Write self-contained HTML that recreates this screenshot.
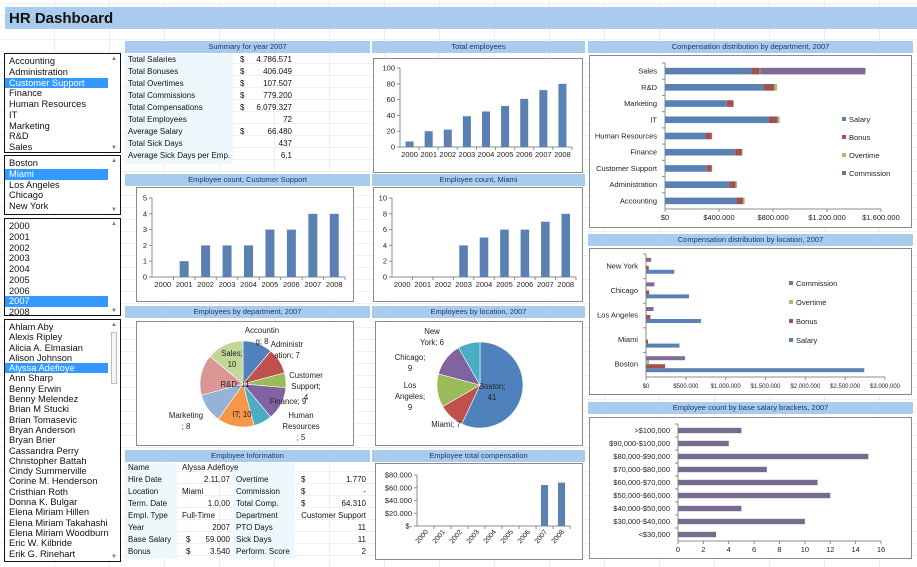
<!DOCTYPE html>
<html><head><meta charset="utf-8">
<style>
*{box-sizing:border-box;margin:0;padding:0}
body{width:917px;height:567px;overflow:hidden;position:relative;font-family:"Liberation Sans",sans-serif;color:#111;
background-color:#fff;
background-image:repeating-linear-gradient(90deg,transparent 0 54px,#ececec 54px 55px),repeating-linear-gradient(0deg,transparent 0 11px,#f0f0f0 11px 12px);}
.abs{position:absolute}
.title{left:5px;top:7px;width:912px;height:22px;background:#a9cbee;font-weight:bold;font-size:15px;padding:3px 0 0 4px;color:#111}
.hdr{position:absolute;height:12px;background:#a9cbee;font-size:7.5px;color:#1f3864;text-align:center;line-height:12px}
.box{position:absolute;border:1px solid #8a8a8a;background:#fff}
.lb{position:absolute;border:1px solid #111;background:#fff;font-size:9.3px;overflow:hidden;padding-top:1px}
.lb div{height:10.75px;line-height:10.75px;padding-left:4px;white-space:nowrap;width:103px}
.lb.names div{height:10.3px;line-height:10.3px}
.lb .sel{background:#3399ff;color:#fff}
.lb .up,.lb .dn{position:absolute;right:3px;font-size:6px;color:#777}
.lb .up{top:2px}.lb .dn{bottom:1px}
.tbl{position:absolute;font-size:8px;left:0;top:0}
.tbl div{position:absolute;white-space:nowrap}
.tbl .r{text-align:right}
svg text{font-family:"Liberation Sans",sans-serif}
</style></head><body>
<div class="abs title">HR Dashboard</div>

<div class="lb" style="left:4px;top:53px;width:117px;height:100px;padding-top:2px">
<div>Accounting</div><div>Administration</div><div class="sel">Customer Support</div><div>Finance</div><div>Human Resources</div><div>IT</div><div>Marketing</div><div>R&amp;D</div><div>Sales</div>
<span class="up">▲</span><span class="dn">▼</span></div>
<div class="lb" style="left:4px;top:155px;width:117px;height:60px;padding-top:2px">
<div>Boston</div><div class="sel">Miami</div><div>Los Angeles</div><div>Chicago</div><div>New York</div>
<span class="up">▲</span><span class="dn">▼</span></div>
<div class="lb" style="left:4px;top:218px;width:117px;height:98px;padding-top:2px">
<div>2000</div><div>2001</div><div>2002</div><div>2003</div><div>2004</div><div>2005</div><div>2006</div><div class="sel">2007</div><div>2008</div>
<span class="up">▲</span><span class="dn">▼</span></div>
<div class="lb names" style="left:4px;top:319px;width:117px;height:243px;padding-top:2px">
<div>Ahlam Aby</div><div>Alexis Ripley</div><div>Alicia A. Elmasian</div><div>Alison Johnson</div><div class="sel">Alyssa Adefioye</div><div>Ann Sharp</div><div>Benny Erwin</div><div>Benny Melendez</div><div>Brian M Stucki</div><div>Brian Tomasevic</div><div>Bryan Anderson</div><div>Bryan Brier</div><div>Cassandra Perry</div><div>Christopher Battah</div><div>Cindy Summerville</div><div>Corine M. Henderson</div><div>Cristhian Roth</div><div>Donna K. Bulgar</div><div>Elena Miriam Hillen</div><div>Elena Miriam Takahashi</div><div>Elena Miriam Woodburn</div><div>Eric W. Kilbride</div><div>Erik G. Rinehart</div>
<span class="up">▲</span><span class="dn" style="background:#fff">▼</span><span class="abs" style="right:3px;top:12px;width:6px;height:52px;border:1px solid #bbb;background:#f4f4f4"></span></div>

<div class="hdr" style="left:125px;top:41px;width:245px">Summary for year 2007</div>
<div class="hdr" style="left:372px;top:41px;width:213px">Total employees</div>
<div class="hdr" style="left:588px;top:41px;width:325px">Compensation distribution by department, 2007</div>
<div class="hdr" style="left:125px;top:174px;width:245px">Employee count, Customer Support</div>
<div class="hdr" style="left:372px;top:174px;width:213px">Employee count, Miami</div>
<div class="hdr" style="left:588px;top:234px;width:325px">Compensation distribution by location, 2007</div>
<div class="hdr" style="left:125px;top:306px;width:245px">Employees by department, 2007</div>
<div class="hdr" style="left:372px;top:306px;width:213px">Employees by location, 2007</div>
<div class="hdr" style="left:588px;top:402px;width:325px">Employee count by base salary brackets, 2007</div>
<div class="hdr" style="left:125px;top:450px;width:245px">Employee Information</div>
<div class="hdr" style="left:372px;top:450px;width:213px">Employee total compensation</div>

<div class="box" style="left:373px;top:58px;width:210px;height:115px"></div>
<div class="box" style="left:589px;top:55px;width:323px;height:173px"></div>
<div class="box" style="left:136px;top:187px;width:218px;height:115px"></div>
<div class="box" style="left:373px;top:187px;width:210px;height:115px"></div>
<div class="box" style="left:589px;top:248px;width:323px;height:147px"></div>
<div class="box" style="left:136px;top:321px;width:218px;height:125px"></div>
<div class="box" style="left:375px;top:321px;width:208px;height:125px"></div>
<div class="box" style="left:589px;top:417px;width:323px;height:142px"></div>
<div class="box" style="left:375px;top:463px;width:208px;height:97px"></div>

<div class="abs" style="left:125px;top:54px;width:108px;height:110px;background:#eef8fc"></div>
<div class="tbl">
<div style="left:128px;top:55px">Total Salaries</div><div style="left:240px;top:55px">$</div><div class="r" style="left:232px;width:60px;top:55px">4.786.571</div>
<div style="left:128px;top:67px">Total Bonuses</div><div style="left:240px;top:67px">$</div><div class="r" style="left:232px;width:60px;top:67px">406.049</div>
<div style="left:128px;top:79px">Total Overtimes</div><div style="left:240px;top:79px">$</div><div class="r" style="left:232px;width:60px;top:79px">107.507</div>
<div style="left:128px;top:91px">Total Commissions</div><div style="left:240px;top:91px">$</div><div class="r" style="left:232px;width:60px;top:91px">779.200</div>
<div style="left:128px;top:103px">Total Compensations</div><div style="left:240px;top:103px">$</div><div class="r" style="left:232px;width:60px;top:103px">6.079.327</div>
<div style="left:128px;top:115px">Total Employees</div><div class="r" style="left:232px;width:60px;top:115px">72</div>
<div style="left:128px;top:127px">Average Salary</div><div style="left:240px;top:127px">$</div><div class="r" style="left:232px;width:60px;top:127px">66.480</div>
<div style="left:128px;top:139px">Total Sick Days</div><div class="r" style="left:232px;width:60px;top:139px">437</div>
<div style="left:128px;top:151px">Average Sick Days per Emp.</div><div class="r" style="left:232px;width:60px;top:151px">6,1</div>
</div>

<div class="abs" style="left:125px;top:463px;width:52px;height:96px;background:#eef8fc"></div>
<div class="abs" style="left:233px;top:463px;width:62px;height:96px;background:#eef8fc"></div>
<div class="tbl">
<div style="left:128px;top:463px">Name</div><div style="left:182px;top:463px">Alyssa Adefioye</div>
<div style="left:128px;top:475px">Hire Date</div><div class="r" style="left:178px;width:52px;top:475px">2.11.07</div><div style="left:236px;top:475px">Overtime</div><div style="left:301px;top:475px">$</div><div class="r" style="left:300px;width:66px;top:475px">1.770</div>
<div style="left:128px;top:487px">Location</div><div style="left:182px;top:487px">Miami</div><div style="left:236px;top:487px">Commission</div><div style="left:301px;top:487px">$</div><div class="r" style="left:300px;width:66px;top:487px">-</div>
<div style="left:128px;top:499px">Term. Date</div><div class="r" style="left:178px;width:52px;top:499px">1.0.00</div><div style="left:236px;top:499px">Total Comp.</div><div style="left:301px;top:499px">$</div><div class="r" style="left:300px;width:66px;top:499px">64.310</div>
<div style="left:128px;top:511px">Empl. Type</div><div style="left:182px;top:511px">Full-Time</div><div style="left:236px;top:511px">Department</div><div class="r" style="left:290px;width:76px;top:511px">Customer Support</div>
<div style="left:128px;top:523px">Year</div><div class="r" style="left:178px;width:52px;top:523px">2007</div><div style="left:236px;top:523px">PTO Days</div><div class="r" style="left:300px;width:66px;top:523px">11</div>
<div style="left:128px;top:535px">Base Salary</div><div style="left:186px;top:535px">$</div><div class="r" style="left:178px;width:52px;top:535px">59.000</div><div style="left:236px;top:535px">Sick Days</div><div class="r" style="left:300px;width:66px;top:535px">11</div>
<div style="left:128px;top:547px">Bonus</div><div style="left:186px;top:547px">$</div><div class="r" style="left:178px;width:52px;top:547px">3.540</div><div style="left:236px;top:547px">Perform. Score</div><div class="r" style="left:300px;width:66px;top:547px">2</div>
</div>

<svg id="charts" class="abs" style="left:0;top:0" width="917" height="567"></svg>

<script>
const years=['2000','2001','2002','2003','2004','2005','2006','2007','2008'];
const totalEmployees=[7,20,22,39,45,52,61,72,80];
const totalEmpTicks=[0,20,40,60,80,100];
const csCounts=[0,1,2,2,2,3,3,4,4];
const csTicks=[0,1,2,3,4,5];
const miamiCounts=[0,0,0,4,5,6,6,7,8];
const miamiTicks=[0,2,4,6,8,10];
const empComp=[0,0,0,0,0,0,0,64310,68000];
const empCompTicks=[0,20000,40000,60000,80000];
const empCompTickLabels=['$-','$20.000','$40.000','$60.000','$80.000'];

const departments=['Accounting','Administration','Customer Support','Finance','Human Resources','IT','Marketing','R&D','Sales'];
const deptSalary=[530000,477000,310000,520000,300000,770000,457000,730000,640000];
const deptBonus=[50000,47000,37000,50000,47000,65000,50000,80000,60000];
const deptOvertime=[10000,10000,3000,4000,3000,15000,3000,20000,5000];
const deptCommission=[0,0,0,0,0,0,0,0,780000];
const deptTicks=[0,400000,800000,1200000,1600000];
const deptTickLabels=['$0','$400.000','$800.000','$1.200.000','$1.600.000'];

const locations=['Boston','Miami','Los Angeles','Chicago','New York'];
const locSalary=[2740000,420000,690000,540000,355000];
const locBonus=[240000,25000,55000,40000,35000];
const locOvertime=[40000,5000,10000,10000,5000];
const locCommission=[490000,5000,95000,105000,65000];
const locTicks=[0,500000,1000000,1500000,2000000,2500000,3000000];
const locTickLabels=['$0','$500.000','$1.000.000','$1.500.000','$2.000.000','$2.500.000','$3.000.000'];

const brackets=['<$30,000','$30,000-$40,000','$40,000-$50,000','$50,000-$60,000','$60,000-$70,000','$70,000-$80,000','$80,000-$90,000','$90,000-$100,000','>$100,000'];
const bracketCounts=[3,10,5,12,11,7,15,4,5];
const bracketTicks=[0,2,4,6,8,10,12,14,16];

const pieDeptNames=['Accounting','Administration','Customer Support','Finance','Human Resources','IT','Marketing','R&D','Sales'];
const pieDeptValues=[8,7,4,9,5,10,8,11,10];
const pieLocNames=['Boston','Miami','Los Angeles','Chicago','New York'];
const pieLocValues=[41,7,9,9,6];

const svg=document.getElementById('charts');
const NS='http://www.w3.org/2000/svg';
function mk(tag,attrs){const e=document.createElementNS(NS,tag);for(const k in attrs)e.setAttribute(k,attrs[k]);svg.appendChild(e);return e;}
function txt(x,y,s,anchor,size,fill){const t=mk('text',{x:x,y:y,'text-anchor':anchor||'start','font-size':size||7.5,fill:fill||'#222'});t.textContent=s;return t;}
const AX='#8c8c8c';
const C={sal:'#5b80b2',bon:'#a0524f',ot:'#a6bd78',com:'#7f6b98',bar:'#5b80b2',br:'#776c8c'};

function colChart(vals,ticks,tickLabels,L,R,B,T,name,rot){
  const max=ticks[ticks.length-1];
  const ys=v=>B-(v/max)*(B-T);
  const slot=(R-L)/vals.length;
  const ax1=mk('line',{x1:L,y1:T,x2:L,y2:B,stroke:AX});
  
  
  const ax2=mk('line',{x1:L,y1:B,x2:R,y2:B,stroke:AX});
  
  
  ticks.forEach((t,i)=>{
    mk('line',{x1:L-3,y1:ys(t),x2:L,y2:ys(t),stroke:AX});
    const tl=txt(L-5,ys(t)+2.5,tickLabels?tickLabels[i]:String(t),'end',7.5);
    
    
  });
  vals.forEach((v,i)=>{
    const cx=L+slot*(i+0.5), w=slot*0.42;
    mk('line',{x1:L+slot*(i+1),y1:B,x2:L+slot*(i+1),y2:B+3,stroke:AX});
    if(v>0){const r=mk('rect',{x:cx-w/2,y:ys(v),width:w,height:B-ys(v),fill:C.bar});
      
      }
    let l;
    if(rot){l=txt(cx+3,B+6,years[i],'end',7);l.setAttribute('transform','rotate(-50 '+(cx+3)+' '+(B+6)+')');}
    else l=txt(cx,B+10,years[i],'middle',7.5);
    
    
  });
}
colChart(totalEmployees,totalEmpTicks,null,400,572,147,68,'total-employees');
colChart(csCounts,csTicks,null,152,345,277,198,'count-cs');
colChart(miamiCounts,miamiTicks,null,392,576,277,198,'count-miami');
colChart(empComp,empCompTicks,empCompTickLabels,417,570,526,475,'employee-comp',true);

(function(){
  const L=665,R=881,T=63,B=209,max=deptTicks[deptTicks.length-1];
  const xs=v=>L+(v/max)*(R-L);const slot=(B-T)/departments.length;
  const a=mk('line',{x1:L,y1:T,x2:L,y2:B,stroke:AX});
  
  
  const b=mk('line',{x1:L,y1:B,x2:R,y2:B,stroke:AX});
  
  
  deptTicks.forEach((t,i)=>{mk('line',{x1:xs(t),y1:B,x2:xs(t),y2:B+3,stroke:AX});
    const l=txt(xs(t),B+11,deptTickLabels[i],'middle',7.5);
    
    });
  const series=[[deptSalary,C.sal,'salary'],[deptBonus,C.bon,'bonus'],[deptOvertime,C.ot,'overtime'],[deptCommission,C.com,'commission']];
  departments.forEach((d,i)=>{
    const cy=B-slot*(i+0.5);let acc=0;
    mk('line',{x1:L-3,y1:B-slot*(i+1),x2:L,y2:B-slot*(i+1),stroke:AX});
    series.forEach(s=>{const v=s[0][i];if(v>0){const r=mk('rect',{x:xs(acc),y:cy-3.3,width:xs(acc+v)-xs(acc),height:6.6,fill:s[1]});
      
      }acc+=v;});
    const l=txt(L-8,cy+2.5,d,'end',7.5);
    
    
  });
  [['Salary',C.sal],['Bonus',C.bon],['Overtime',C.ot],['Commission',C.com]].forEach((e,i)=>{
    const y=120+i*18;const r=mk('rect',{x:842,y:y-3,width:4,height:4,fill:e[1]});
    
    
    const l=txt(849,y+2,e[0],'start',7.5);
    
    });
})();

(function(){
  const L=646,R=885,T=254,B=377,max=locTicks[locTicks.length-1];
  const xs=v=>L+(v/max)*(R-L);const slot=(B-T)/locations.length;
  const a=mk('line',{x1:L,y1:T,x2:L,y2:B,stroke:AX});
  
  
  const b=mk('line',{x1:L,y1:B,x2:R,y2:B,stroke:AX});
  
  
  locTicks.forEach((t,i)=>{mk('line',{x1:xs(t),y1:B,x2:xs(t),y2:B+3,stroke:AX});
    const l=txt(xs(t),B+11,locTickLabels[i],'middle',6);
    
    });
  const series=[[locSalary,C.sal,'salary',5.5],[locBonus,C.bon,'bonus',1.5],[locOvertime,C.ot,'overtime',-2.5],[locCommission,C.com,'commission',-6.5]];
  locations.forEach((d,i)=>{
    const cy=B-slot*(i+0.5);
    mk('line',{x1:L-3,y1:B-slot*(i+1),x2:L,y2:B-slot*(i+1),stroke:AX});
    series.forEach(s=>{const r=mk('rect',{x:L,y:cy+s[3]-2,width:xs(s[0][i])-L,height:4,fill:s[1]});
      
      });
    const l=txt(L-8,cy+2,d,'end',7.5);
    
    
  });
  [['Commission',C.com],['Overtime',C.ot],['Bonus',C.bon],['Salary',C.sal]].forEach((e,i)=>{
    const y=284+i*19;const r=mk('rect',{x:789,y:y-3,width:4,height:4,fill:e[1]});
    
    
    const l=txt(796,y+2,e[0],'start',7.5);
    
    });
})();

(function(){
  const L=678,R=881,T=424,B=541,max=bracketTicks[bracketTicks.length-1];
  const xs=v=>L+(v/max)*(R-L);const slot=(B-T)/brackets.length;
  const a=mk('line',{x1:L,y1:T,x2:L,y2:B,stroke:AX});
  
  
  const b=mk('line',{x1:L,y1:B,x2:R,y2:B,stroke:AX});
  
  
  bracketTicks.forEach(t=>{mk('line',{x1:xs(t),y1:B,x2:xs(t),y2:B+3,stroke:AX});
    const l=txt(xs(t),B+11,String(t),'middle',7.5);
    
    });
  brackets.forEach((d,i)=>{
    const cy=B-slot*(i+0.5);
    mk('line',{x1:L-3,y1:B-slot*(i+1),x2:L,y2:B-slot*(i+1),stroke:AX});
    const r=mk('rect',{x:L,y:cy-2.7,width:xs(bracketCounts[i])-L,height:5.4,fill:C.br});
    
    
    const l=txt(L-8,cy+2.5,d,'end',7.5);
    
    
  });
})();

function pie(vals,names,cx,cy,r,colors,labels,name){
  const tot=vals.reduce((a,b)=>a+b,0);let a0=-Math.PI/2;
  vals.forEach((v,i)=>{
    const a1=a0+v/tot*2*Math.PI;
    const x0=cx+r*Math.cos(a0),y0=cy+r*Math.sin(a0),x1=cx+r*Math.cos(a1),y1=cy+r*Math.sin(a1);
    const p=mk('path',{d:`M${cx},${cy}L${x0},${y0}A${r},${r} 0 ${a1-a0>Math.PI?1:0} 1 ${x1},${y1}Z`,fill:colors[i],stroke:'#fff','stroke-width':0.6});
    
    
    const lb=labels[i];
    const lines=lb[2].replace('{v}',v).split('|');
    lines.forEach((s,k)=>{const t=txt(lb[0],lb[1]+k*11,s,'middle',7.8);
      
      });
    a0=a1;
  });
}
const pal=['#4f81bd','#c0504d','#9bbb59','#8064a2','#4bacc6','#f79646','#95b3d7','#da9694','#c4d79b'];
pie(pieDeptValues,pieDeptNames,243,384,43,pal,[
 [262,333,'Accountin|g; {v}'],[287,347,'Administr|ation; {v}'],[306,378,'Customer|Support;|{v}'],[288,404,'Finance; {v}'],[301,418,'Human|Resources|; {v}'],
 [242,417,'IT; {v}'],[186,418,'Marketing|; {v}'],[235,387,'R&D; {v}'],[232,356,'Sales;|{v}']],'pie-dept');
pie(pieLocValues,pieLocNames,480,385,43,pal,[
 [492,389,'Boston;|{v}'],[446,427,'Miami; {v}'],[410,388,'Los|Angeles;|{v}'],[410,360,'Chicago;|{v}'],[432,334,'New|York; {v}']],'pie-loc');
</script>
</body></html>
